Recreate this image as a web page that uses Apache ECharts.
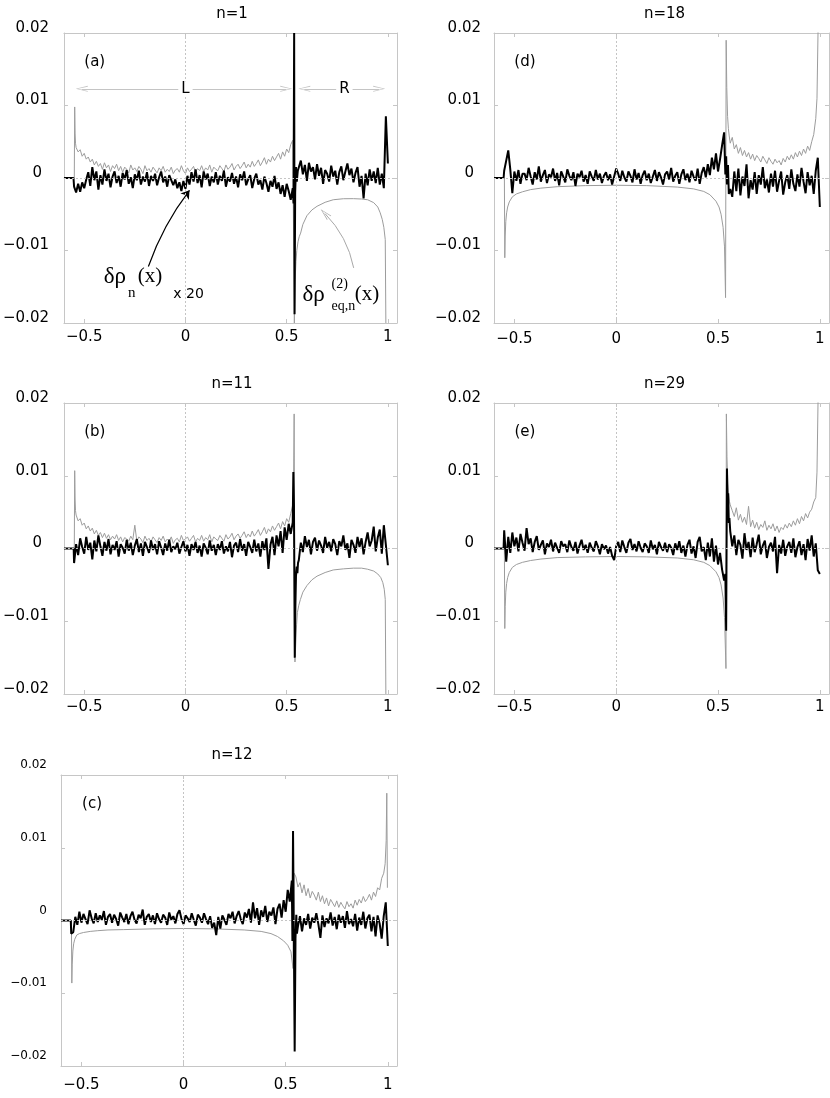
<!DOCTYPE html>
<html><head><meta charset="utf-8">
<script src="https://cdn.jsdelivr.net/npm/echarts@6/dist/echarts.min.js"></script>
<style>html,body{margin:0;padding:0;background:#fff}#c{width:830px;height:1098px}</style>
</head><body><div id="c"></div>
<script>
// ---------------- DATA (y values in units of 1e-3) ----------------
const xTicks = [-0.5, 0, 0.5, 1];
const xTickLabels = ['\u22120.5', '0', '0.5', '1'];
const yTicks = [-20, -10, 0, 10, 20];
const yTickLabels = ['\u22120.02', '\u22120.01', '0', '0.01', '0.02'];
const titles = ['n=1', 'n=11', 'n=12', 'n=18', 'n=29'];
const tags = ['(a)', '(b)', '(c)', '(d)', '(e)'];

// evenly spaced samples: L region starts at -0.55, R region at 0.56, step 0.01
const L_X0 = -0.55, R_X0 = 0.56, DX = 0.01;

// ---- panel (a) n=1 ----
const aBlackLead = [[-0.6,0],[-0.553,0]];
const aBlackL = [
-1.2,-2.0,-0.8,-1.9,-0.6,-1.4,-0.2,0.8,-1.1,1.5,
-0.3,0.9,-1.6,0.4,-0.9,1.2,-0.4,0.6,-1.3,0.2,
0.9,-0.7,0.3,-1.2,0.7,-0.2,1.1,-0.8,0.1,-1.4,
0.5,-0.3,1.0,-0.9,0.2,-0.5,0.8,-1.1,0.3,-0.4,
0.6,-1.0,0.1,0.9,-0.6,0.2,-1.2,0.4,-0.3,-1.0,
-0.2,-1.4,-0.6,-1.8,-0.4,-1.5,0.3,-0.9,0.8,-0.5,
1.2,-0.7,0.4,-1.3,0.9,-0.2,0.6,-1.1,0.2,-0.6,
0.8,-0.9,0.3,-0.4,1.0,-1.2,0.1,-0.5,0.7,-0.8,
0.2,-1.3,0.5,-0.3,0.9,-1.0,-0.2,0.4,-1.4,-0.1,
0.6,-0.9,-0.3,-1.6,0.2,-0.7,-1.9,-0.4,-1.2,0.3,
-1.5,-0.6,-2.2,-1.0,-2.6,-0.8,-1.8,-3.0,-1.4];
const aBlackSpike = [[0.534,-3.5],[0.537,20],[0.539,-18.8],[0.542,-2.0],[0.546,1.5],[0.550,-0.5],[0.555,1.0]];
const aBlackR = [
1.2,2.4,0.5,1.8,-0.4,2.1,0.9,1.5,-0.2,1.9,
0.3,1.4,-0.8,1.1,0.6,-0.5,1.7,0.2,1.0,-0.9,
0.8,1.6,-0.3,0.9,2.0,0.4,1.3,-0.6,0.7,1.5,
-1.2,0.3,-2.8,0.6,-1.0,1.2,-0.4,0.9,-0.7,1.4,
-0.9,0.6,-1.4,8.5,2.0];
const aGrayLead = [[-0.549,0],[-0.547,9.8],[-0.545,6.2],[-0.543,4.8]];
const aGrayL = [
4.2,3.6,3.9,3.0,3.4,2.6,2.9,2.2,2.6,1.8,
2.3,1.6,2.0,1.2,2.1,1.4,1.8,0.9,1.7,1.3,
1.9,1.0,1.6,0.8,1.5,1.2,0.7,1.8,1.1,1.4,
0.9,1.6,1.2,0.6,1.7,1.0,1.3,0.8,1.5,1.1,
0.7,1.4,1.0,1.6,0.8,1.2,0.9,1.5,0.6,1.1,
1.3,0.8,1.7,1.0,0.6,1.4,0.9,1.2,1.6,0.8,
1.3,1.0,1.7,0.9,1.4,1.1,1.8,0.8,1.5,1.2,
1.0,1.7,1.3,0.9,1.8,1.2,1.5,2.0,1.1,1.6,
1.9,1.3,1.7,2.2,1.4,1.9,1.5,2.3,1.6,2.0,
2.5,1.7,2.2,2.8,1.9,2.6,2.2,3.0,2.4,2.9,
3.4,2.6,3.6,3.0,4.0,3.5,4.6,5.2];
const aGraySpike = [[0.535,5.0]];
const aGrayRx = [0.538,0.542,0.546,0.55,0.556,0.562,0.569,0.58,0.60,0.625,0.65,0.69,0.73,0.78,0.83,0.87,0.90,0.93,0.95,0.962,0.972,0.98,0.987,0.99];
const aGrayRy = [-20,-14,-11.5,-10,-8.8,-8.1,-7.6,-6.4,-5.2,-4.4,-3.9,-3.35,-3.0,-2.86,-2.85,-2.9,-3.0,-3.4,-4.0,-4.8,-5.7,-6.8,-8.5,-20];

// ---- panel (b) n=11 ----
const bBlackLead = [[-0.6,0],[-0.552,0]];
const bBlackL = [
-2.0,0.6,-0.9,1.4,0.2,-0.7,1.6,-0.2,0.8,-1.5,
1.1,-0.4,1.8,0.3,-1.0,0.9,-0.3,1.3,-0.8,0.5,
-0.2,1.0,-1.1,0.6,0.1,-0.7,1.2,-0.3,0.8,-0.9,
0.4,1.3,-0.5,0.7,-1.0,0.9,0.2,-0.6,1.1,-0.2,
0.6,-0.8,1.0,0.1,-0.9,0.7,-0.3,1.2,-0.5,0.3,
-0.1,0.8,-0.7,0.2,1.0,-0.4,0.5,-1.0,0.6,-0.2,
0.9,-0.6,0.4,-1.1,0.7,0.1,-0.8,1.1,-0.3,0.5,
-0.9,0.6,-0.2,1.0,-0.7,0.3,-0.4,0.9,-1.2,0.4,
0.8,-0.5,1.3,-0.3,0.6,-1.0,0.9,0.2,-0.6,1.2,
-0.4,0.7,-1.1,1.0,-0.2,1.4,-2.8,0.5,1.6,-0.9,
1.8,0.3,2.4,-0.6,2.9,1.2,3.4,2.0,3.6];
const bBlackSpike = [[0.533,10.5],[0.536,6.0],[0.540,-15],[0.543,-8],[0.546,-3.8],[0.550,-2.5],[0.553,-3.4],[0.556,-2.0]];
const bBlackR = [
-1.6,0.8,-0.5,1.7,0.2,1.2,-0.8,0.9,1.5,-0.3,
1.1,0.4,-0.6,1.6,0.1,0.9,-0.4,1.3,0.6,-0.9,
1.0,0.3,1.8,-0.2,0.7,-1.3,1.2,0.5,-0.6,1.6,
0.2,1.4,-0.8,0.9,2.2,0.3,1.1,3.0,-0.4,1.5,
2.6,-0.7,3.2,0.5,-2.3];
const bGrayLead = [[-0.549,0],[-0.547,10.7],[-0.545,6.8],[-0.543,5.2]];
const bGrayL = [
4.6,3.8,4.1,3.2,3.5,2.7,3.1,2.4,2.8,2.0,
2.5,1.8,2.2,1.5,2.1,1.4,1.9,1.2,1.7,1.3,
1.9,1.1,1.6,0.9,1.5,1.3,1.0,1.7,1.2,3.2,
1.0,1.6,1.3,0.8,1.7,1.1,1.4,0.9,1.6,1.2,
0.8,1.5,1.1,1.7,0.9,1.3,1.0,1.6,0.7,1.2,
1.4,0.9,1.8,1.1,1.3,1.6,1.0,1.4,1.8,0.9,
1.4,1.1,1.8,1.0,1.5,1.2,1.9,0.9,1.6,1.3,
1.1,1.8,1.4,1.0,1.9,1.3,1.6,2.1,1.2,1.7,
2.0,1.4,1.8,2.3,1.5,2.0,1.6,2.4,1.7,2.1,
2.6,1.8,2.3,2.9,2.0,2.7,2.3,3.1,2.5,3.0,
3.5,2.7,3.7,3.1,4.1,3.6,4.8,6.0];
const bGraySpike = [[0.534,9.0],[0.537,18.5],[0.541,-15.6]];
const bGrayRx = [0.545,0.549,0.553,0.56,0.568,0.58,0.60,0.625,0.65,0.69,0.73,0.78,0.83,0.87,0.90,0.93,0.95,0.965,0.975,0.982,0.987,0.99];
const bGrayRy = [-13,-10.5,-8.8,-7.8,-7.0,-6.0,-5.1,-4.3,-3.8,-3.3,-2.95,-2.8,-2.7,-2.7,-2.85,-3.1,-3.5,-4.0,-4.7,-5.6,-7.0,-20];

// ---- panel (c) n=12 ----
const cBlackLead = [[-0.6,0],[-0.552,0]];
const cBlackL = [
-1.8,-1.6,0.5,-0.6,1.2,-0.3,0.9,0.2,-0.5,1.4,
0.3,-0.4,1.0,-0.2,0.7,0.1,1.3,-0.6,0.5,0.9,
-0.3,0.8,0.2,-0.7,1.1,0.4,-0.2,0.9,-0.5,0.6,
1.2,0.1,-0.4,0.8,0.3,1.5,-0.6,0.5,0.9,-0.2,
0.7,-0.5,1.0,0.2,-0.3,0.8,0.4,-0.6,1.1,0.1,
0.6,-0.4,0.9,1.4,0.2,-0.5,0.7,0.3,-0.2,1.0,
0.1,-0.7,0.8,0.4,-0.3,1.0,0.2,-0.5,0.6,-1.0,
-0.3,-2.0,0.5,-1.1,0.7,0.1,-0.6,0.9,0.3,1.2,
-0.4,0.6,1.3,0.2,-0.5,1.1,0.4,1.6,-0.3,2.5,
0.3,1.7,-0.6,1.4,0.5,2.0,-0.2,1.2,0.7,1.8,
-0.5,1.6,2.3,0.4,2.8,1.2,4.2,2.6,5.5];
const cBlackSpike = [[0.533,-2.8],[0.536,12.3],[0.541,-6],[0.544,-18],[0.548,-2.5],[0.552,0.8],[0.555,-1.8]];
const cBlackR = [
-0.8,0.6,-1.5,0.3,-0.6,0.9,-1.1,0.4,-0.3,1.0,
-0.5,-2.4,0.7,-0.9,0.3,-0.4,1.1,-0.7,0.5,-1.2,
0.8,-0.3,0.6,-1.0,1.3,-0.5,0.2,-0.8,0.9,-1.4,
0.4,-0.6,1.2,-1.1,0.3,0.8,-1.5,0.5,-2.2,0.7,
-0.4,-2.5,0.6,2.5,-3.5];
const cGrayLx = [-0.549,-0.547,-0.545,-0.542,-0.538,-0.533,-0.523,-0.51,-0.49,-0.457,-0.42,-0.37,-0.293,-0.15,0,0.15,0.297,0.38,0.428,0.46,0.49,0.51,0.526,0.536];
const cGrayLy = [0,-8.6,-6,-4.2,-3.2,-2.6,-2.0,-1.8,-1.65,-1.5,-1.4,-1.3,-1.25,-1.15,-1.1,-1.15,-1.3,-1.5,-1.8,-2.2,-2.8,-3.4,-4.3,-6.6];
const cGraySpike = [[0.541,6.5]];
const cGrayR_X0 = 0.55;
const cGrayR = [
6.0,4.6,5.2,3.8,4.9,3.4,4.4,3.1,4.0,3.5,
2.8,3.9,2.6,3.4,2.3,3.1,2.0,2.9,2.4,1.9,
2.7,1.8,2.5,2.0,1.6,2.6,1.9,2.3,1.7,2.8,
2.1,2.9,2.4,3.3,2.6,3.0,3.6,2.8,3.9,3.3,
4.5,4.2,5.8,6.5];
const cGrayEnd = [[0.987,7.8],[0.992,11],[0.995,17.5],[0.998,4.5]];

// ---- panel (d) n=18 ----
const dBlackLead = [[-0.6,0],[-0.553,0]];
const dBlackL = [
1.0,2.4,3.8,1.2,-2.1,0.9,-0.4,1.1,-0.8,0.6,
0.6,-0.3,1.4,0.2,-0.9,0.8,-0.2,1.6,-0.5,0.4,
1.1,-0.7,0.5,0.1,1.3,-0.4,0.7,-1.0,0.9,0.2,
-0.6,1.2,0.3,-0.3,0.8,-1.1,0.6,0.1,1.0,-0.5,
0.4,-0.8,0.9,0.2,-0.4,1.1,-0.2,0.6,-0.7,0.3,
0.8,-0.3,0.5,-0.9,0.2,1.3,0.6,-0.4,1.0,0.1,
-0.5,0.9,0.3,-0.6,1.2,-0.2,0.7,-0.8,0.4,1.0,
-0.3,0.6,-0.7,0.2,1.1,-0.4,0.8,0.1,-0.9,0.5,
0.9,-0.2,1.4,-0.5,0.3,0.8,-0.8,0.5,1.2,-0.3,
0.6,-0.6,1.0,0.2,-0.4,1.3,-0.8,0.7,1.5,0.1,
1.9,0.4,2.8,1.2,3.4,0.9,2.6,4.5,6.3];
const dBlackSpike = [[0.536,0.5],[0.540,3.0],[0.544,-0.9],[0.549,1.8],[0.553,-2.2]];
const dBlackR = [
-1.5,-2.6,0.9,-1.8,1.3,-2.4,0.2,-1.1,1.9,-2.8,
-0.3,-1.6,0.8,-2.2,0.4,-0.9,1.5,-1.4,-0.2,-2.0,
0.6,-1.2,1.0,-1.9,-0.4,0.9,-2.3,-0.6,0.4,-1.5,
1.2,-0.8,-1.8,0.5,-1.2,1.4,-0.5,-2.1,0.8,-1.0,
0.3,-2.2,1.0,2.8,-4.0];
const dGrayLx = [-0.549,-0.547,-0.545,-0.542,-0.538,-0.533,-0.525,-0.51,-0.49,-0.46,-0.42,-0.37,-0.29,-0.15,0,0.15,0.3,0.38,0.43,0.46,0.49,0.505,0.515,0.525,0.532,0.537];
const dGrayLy = [0,-11,-8,-6,-4.8,-4.0,-3.3,-2.6,-2.2,-1.9,-1.6,-1.4,-1.2,-1.05,-1.0,-1.05,-1.25,-1.5,-1.85,-2.3,-3.2,-4.0,-5.0,-6.8,-9.5,-16.5];
const dGraySpike = [[0.540,19],[0.543,12.5],[0.547,8.5],[0.551,6.8],[0.555,5.8]];
const dGrayR = [
4.8,5.6,4.0,4.6,3.4,4.2,3.1,3.8,2.9,3.5,
2.6,3.3,2.4,3.1,2.7,2.2,3.0,2.5,2.0,2.8,
2.3,1.9,2.6,2.1,2.4,1.8,2.7,2.2,3.0,2.5,
3.2,2.6,3.5,2.9,3.7,3.1,4.0,3.4,4.4,3.8,
5.0,6.0];
const dGrayEnd = [[0.98,8.2],[0.986,11],[0.991,20],[0.993,22]];

// ---- panel (e) n=29 ----
const eBlackLead = [[-0.6,0],[-0.553,0]];
const eBlackL = [
2.5,-1.8,1.6,-0.6,2.2,0.3,1.5,-0.4,2.0,0.8,
-0.3,2.8,0.6,1.4,-0.5,0.9,1.7,-0.2,0.5,1.1,
-0.8,0.7,0.2,1.2,-0.4,0.8,0.1,-0.6,1.0,0.3,
0.6,-0.5,1.1,0.2,-0.3,0.9,-0.7,0.4,1.2,-0.2,
0.5,-0.6,0.8,0.1,-0.4,1.0,0.3,-0.8,0.6,-0.1,
0.4,-0.7,0.2,-1.0,-1.6,0.3,0.9,-0.5,1.1,0.2,
-0.6,0.8,1.3,-0.2,0.6,-0.4,1.0,0.1,-0.5,0.7,
0.3,-0.6,1.1,-0.1,0.5,-0.8,0.9,0.2,-0.3,0.8,
-0.5,0.6,0.1,-0.9,0.7,-0.2,1.0,-0.6,0.4,-1.1,
0.5,1.2,-0.7,0.3,-1.3,0.9,1.6,-0.4,0.2,-1.6,
0.8,-1.1,1.4,-1.8,0.4,-2.2,-0.6,-2.9,-4.4];
const eBlackSpike = [[0.536,-3.5],[0.540,-11.3],[0.544,11],[0.547,6],[0.550,7.6],[0.553,3.5],[0.556,4.2]];
const eBlackR = [
2.4,0.3,1.8,-0.9,1.2,0.5,-1.4,2.1,-0.2,0.9,
-1.2,1.5,-0.5,0.6,1.9,-0.8,0.4,1.1,-1.3,0.2,
0.8,-0.4,1.6,-3.4,0.5,-0.7,1.2,-1.0,0.3,0.9,
-0.6,1.4,-1.2,0.2,1.0,-0.9,0.6,-1.6,1.3,-0.3,
1.8,-1.1,0.7,-3.0,-3.5];
const eGrayLx = [-0.549,-0.547,-0.545,-0.542,-0.538,-0.533,-0.525,-0.51,-0.49,-0.46,-0.42,-0.37,-0.29,-0.15,0,0.15,0.3,0.38,0.43,0.46,0.49,0.505,0.515,0.525,0.532,0.539];
const eGrayLy = [0,-11,-8,-6,-4.8,-4.0,-3.3,-2.6,-2.2,-1.9,-1.65,-1.45,-1.25,-1.15,-1.1,-1.15,-1.3,-1.55,-1.9,-2.35,-3.2,-4.0,-5.0,-6.8,-9.5,-16.5];
const eGraySpike = [[0.541,18.5],[0.544,12.6],[0.548,9],[0.552,7.4],[0.556,6.5]];
const eGrayR = [
6.0,5.2,4.4,5.6,3.9,4.7,3.6,4.3,3.3,5.8,
3.0,3.9,2.8,3.6,2.6,3.3,2.9,3.8,2.5,3.2,
2.7,3.4,2.4,3.1,2.2,2.9,2.6,3.3,2.8,3.5,
3.0,3.8,3.2,4.1,3.4,4.4,3.8,4.8,4.2,5.0,
5.4,6.4];
const eGrayEnd = [[0.98,7.0],[0.986,10.5],[0.991,20],[0.993,22]];

// ---- annotations of panel (a) (data coordinates) ----
const arrowL = [[-0.512,12.3],[0.498,12.3]];
const arrowR = [[0.587,12.3],[0.957,12.3]];
const arrowBlack = [[-0.183,-12.2],[0.02,-1.7]];
const arrowGray = [[0.831,-12.4],[0.689,-4.9]];

// ---------------- BUILD ----------------
const grid = (x0, n) => Array.from({length: n}, (_, i) => +(x0 + i * DX).toFixed(3));
const zip = (xs, ys) => xs.map((x, i) => [x, ys[i]]);
const onGrid = (x0, ys) => zip(grid(x0, ys.length), ys);

const blackData = [
  [].concat(aBlackLead, onGrid(L_X0, aBlackL), aBlackSpike, onGrid(R_X0, aBlackR)),
  [].concat(bBlackLead, onGrid(L_X0, bBlackL), bBlackSpike, onGrid(R_X0, bBlackR)),
  [].concat(cBlackLead, onGrid(L_X0, cBlackL), cBlackSpike, onGrid(R_X0, cBlackR)),
  [].concat(dBlackLead, onGrid(L_X0, dBlackL), dBlackSpike, onGrid(R_X0, dBlackR)),
  [].concat(eBlackLead, onGrid(L_X0, eBlackL), eBlackSpike, onGrid(R_X0, eBlackR))
];
const grayData = [
  [].concat(aGrayLead, onGrid(-0.54, aGrayL), aGraySpike, zip(aGrayRx, aGrayRy)),
  [].concat(bGrayLead, onGrid(-0.54, bGrayL), bGraySpike, zip(bGrayRx, bGrayRy)),
  [].concat(zip(cGrayLx, cGrayLy), cGraySpike, onGrid(cGrayR_X0, cGrayR), cGrayEnd),
  [].concat(zip(dGrayLx, dGrayLy), dGraySpike, onGrid(R_X0, dGrayR), dGrayEnd),
  [].concat(zip(eGrayLx, eGrayLy), eGraySpike, onGrid(R_X0, eGrayR), eGrayEnd)
];

// ---------------- LAYOUT / STYLE ----------------
const FONT = 'DejaVu Sans';
const SERIF = 'Liberation Serif';
const FRAME = '#c6c6c6';
const GRAYLINE = '#9c9c9c';
const layout = [
  {left:61,  top:33,  width:336, height:290, titleTop:2,   xMargin:7,  yFont:15, yPad:10, yMargin:15, zeroPad:7},
  {left:61,  top:403, width:336, height:291, titleTop:372, xMargin:6,  yFont:15, yPad:10, yMargin:15, zeroPad:7},
  {left:61,  top:775, width:336, height:291, titleTop:743, xMargin:12, yFont:12, yPad:20, yMargin:14, zeroPad:0},
  {left:494, top:33,  width:335, height:290, titleTop:2,   xMargin:9,  yFont:15, yPad:10, yMargin:13, zeroPad:7},
  {left:494, top:403, width:335, height:291, titleTop:372, xMargin:6,  yFont:15, yPad:10, yMargin:13, zeroPad:7}
];
const CHEV = 'path://M0,0 L0,0 Z M12,0 L12,0 Z M6,0 L9,12 L8.2,12 L6,2.2 L3.8,12 L3,12 Z';
const textLabelBase = {show: true, position: [0, 0], verticalAlign: 'middle', color: '#000',
  textBorderWidth: 0, textShadowBlur: 0, opacity: 1};

const grids = [], xAxes = [], yAxes = [], series = [], titleArr = [];
layout.forEach((g, i) => {
  grids.push({left: g.left, top: g.top, width: g.width, height: g.height});
  titleArr.push({text: titles[i], left: g.left + g.width / 2 - 2, top: g.titleTop, textAlign: 'center',
    textStyle: {fontFamily: FONT, fontSize: 15, fontWeight: 'normal', color: '#000'}});
  const xb = {gridIndex: i, type: 'value', min: -0.6, max: 1.045,
    axisLine: {show: true, onZero: false, lineStyle: {color: FRAME, width: 1}},
    axisTick: {show: true, inside: true, length: 4, customValues: xTicks, lineStyle: {color: FRAME}},
    splitLine: {show: false}};
  xAxes.push(Object.assign({}, xb, {position: 'bottom',
    axisLabel: {customValues: xTicks, margin: g.xMargin, fontFamily: FONT, fontSize: 15, color: '#000',
      formatter: v => xTickLabels[xTicks.indexOf(v)]}}));
  xAxes.push(Object.assign({}, xb, {position: 'top', axisLabel: {show: false}}));
  const yb = {gridIndex: i, type: 'value', min: -20, max: 20, interval: 10,
    axisLine: {show: true, onZero: false, lineStyle: {color: FRAME, width: 1}},
    axisTick: {show: true, inside: true, length: 4, lineStyle: {color: FRAME}},
    splitLine: {show: false}};
  yAxes.push(Object.assign({}, yb, {position: 'left',
    axisLabel: {margin: g.yMargin, fontFamily: FONT, fontSize: g.yFont, color: '#000', padding: [0, 0, g.yPad, 0],
      formatter: v => v === 0 ? '{z|0}' : yTickLabels[yTicks.indexOf(v)],
      rich: {z: {fontFamily: FONT, fontSize: g.yFont, color: '#000', padding: [0, g.zeroPad, 0, 0]}}}}));
  yAxes.push(Object.assign({}, yb, {position: 'right', axisLabel: {show: false}}));

  const xi = 2 * i, yi = 2 * i;
  series.push({type: 'line', xAxisIndex: xi, yAxisIndex: yi, data: grayData[i], symbol: 'none', showSymbol: false,
    lineStyle: {color: GRAYLINE, width: 1}, z: 2, animation: false,
    markLine: {silent: true, symbol: ['none', 'none'], label: {show: false}, animation: false,
      lineStyle: {color: '#c4c4c4', type: [2, 2], width: 1},
      data: [{xAxis: 0}, {yAxis: 0}]}});
  series.push({type: 'line', xAxisIndex: xi, yAxisIndex: yi, data: blackData[i], symbol: 'none', showSymbol: false,
    lineStyle: {color: '#000', width: 2}, z: 3, animation: false});
  series.push({type: 'scatter', xAxisIndex: xi, yAxisIndex: yi, symbolSize: 0, itemStyle: {color: '#000'},
    silent: true, animation: false, z: 6,
    label: Object.assign({}, textLabelBase, {align: 'center', fontFamily: FONT, fontSize: 15}),
    data: [{value: [-0.448, 16], label: {formatter: tags[i]}}]});
});

// annotations in panel (a)
series.push({type: 'lines', coordinateSystem: 'cartesian2d', xAxisIndex: 0, yAxisIndex: 0, polyline: false, silent: true,
  animation: false, z: 4, symbol: [CHEV, CHEV], symbolSize: 12,
  lineStyle: {color: '#c4c4c4', width: 1, opacity: 1, curveness: 0},
  data: [{coords: arrowL}, {coords: arrowR}]});
series.push({type: 'lines', coordinateSystem: 'cartesian2d', xAxisIndex: 0, yAxisIndex: 0, polyline: false, silent: true,
  animation: false, z: 4, symbol: ['none', 'arrow'], symbolSize: 8,
  lineStyle: {color: '#000', width: 1.2, opacity: 1, curveness: 0.08},
  data: [{coords: arrowBlack}]});
series.push({type: 'lines', coordinateSystem: 'cartesian2d', xAxisIndex: 0, yAxisIndex: 0, polyline: false, silent: true,
  animation: false, z: 4, symbol: ['none', CHEV], symbolSize: 12,
  lineStyle: {color: '#a8a8a8', width: 1, opacity: 1, curveness: -0.15},
  data: [{coords: arrowGray}]});
const txt = (x, y, s, font, size, align, extra) => ({value: [x, y],
  label: Object.assign({formatter: s, fontFamily: font, fontSize: size, align: align || 'left'}, extra || {})});
series.push({type: 'scatter', xAxisIndex: 0, yAxisIndex: 0, symbolSize: 0, itemStyle: {color: '#000'},
  silent: true, animation: false, z: 7,
  label: Object.assign({}, textLabelBase),
  data: [
    txt(0, 12.3, 'L', FONT, 15, 'center', {backgroundColor: '#fff', padding: [0, 3]}),
    txt(0.785, 12.3, 'R', FONT, 15, 'center', {backgroundColor: '#fff', padding: [0, 3]}),
    txt(-0.404, -13.6, '\u03b4\u03c1', SERIF, 23),
    txt(-0.284, -15.9, 'n', SERIF, 15),
    txt(-0.236, -13.6, '(x)', SERIF, 21),
    txt(-0.060, -16.1, 'x 20', FONT, 14),
    txt(0.578, -16.2, '\u03b4\u03c1', SERIF, 23),
    txt(0.722, -14.6, '(2)', SERIF, 14),
    txt(0.722, -17.7, 'eq,n', SERIF, 14),
    txt(0.836, -16.0, '(x)', SERIF, 21)
  ]});

const chart = echarts.init(document.getElementById('c'), null, {renderer: 'canvas'});
chart.setOption({animation: false, backgroundColor: '#fff', title: titleArr, grid: grids,
  xAxis: xAxes, yAxis: yAxes, series: series});
</script></body></html>
